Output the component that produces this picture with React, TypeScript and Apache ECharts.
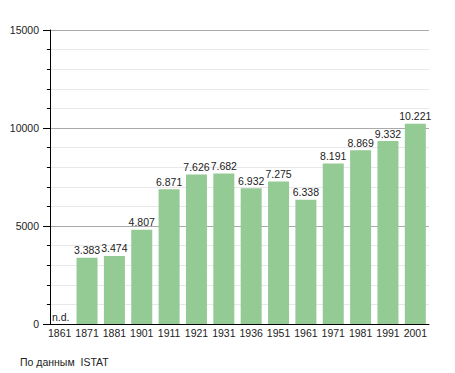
import React, { useEffect, useRef } from "react";
import * as echarts from "echarts";

const years = ["1861", "1871", "1881", "1901", "1911", "1921", "1931", "1936", "1951", "1961", "1971", "1981", "1991", "2001"];
const population: (number | null)[] = [null, 3383, 3474, 4807, 6871, 7626, 7682, 6932, 7275, 6338, 8191, 8869, 9332, 10221];
const yTicks = { min: 0, max: 15000, interval: 5000 };
const sourceNote = "По данным  ISTAT";
const missingLabel = "n.d.";

const FONT = "'Liberation Sans', Arial, sans-serif";
const FS = 10.5;

function fmt(v: number): string {
  return String(v).replace(/\B(?=(\d{3})+(?!\d))/g, ".");
}

export default function App() {
  const ref = useRef<HTMLDivElement>(null);
  useEffect(() => {
    if (!ref.current) return;
    const chart = echarts.init(ref.current, undefined, { renderer: "svg" });
    const data = population.map((v) =>
      v === null
        ? { value: 0, label: { formatter: missingLabel, offset: [1, 0] } }
        : { value: v }
    );
    chart.setOption({
      animation: false,
      textStyle: { fontFamily: FONT },
      grid: { left: 46, right: 26, top: 30, bottom: 49 },
      xAxis: {
        type: "category",
        data: years,
        axisLine: { lineStyle: { color: "#000", width: 1 } },
        axisTick: { show: false },
        axisLabel: { color: "#222", fontSize: FS, fontFamily: FONT, margin: 3, interval: 0 },
      },
      yAxis: {
        type: "value",
        min: yTicks.min,
        max: yTicks.max,
        interval: yTicks.interval,
        offset: -4,
        axisLine: { show: true, lineStyle: { color: "#000", width: 1 } },
        axisTick: { show: true, length: 7, lineStyle: { color: "#000" } },
        minorTick: { show: true, splitNumber: 5, length: 3, lineStyle: { color: "#000" } },
        axisLabel: {
          color: "#222",
          fontSize: FS,
          fontFamily: FONT,
          margin: 11,
          formatter: (v: number) => String(v),
        },
        splitLine: { show: true, lineStyle: { color: "#aaa", width: 1 } },
        minorSplitLine: { show: true, lineStyle: { color: "#e8e8e8", width: 1 } },
      },
      series: [
        {
          type: "bar",
          data,
          barWidth: 21,
          itemStyle: { color: "#94ca94" },
          label: {
            show: true,
            position: "top",
            distance: 2,
            color: "#222",
            fontSize: FS,
            fontFamily: FONT,
            formatter: (p: any) => fmt(p.value),
          },
        },
      ],
      graphic: [
        {
          type: "text",
          left: 20,
          top: 356,
          style: { text: sourceNote, fill: "#222", fontSize: FS, fontFamily: FONT },
        },
      ],
    });
    return () => chart.dispose();
  }, []);
  return <div ref={ref} style={{ width: 455, height: 373, position: "absolute", left: 0, top: 0 }} />;
}
